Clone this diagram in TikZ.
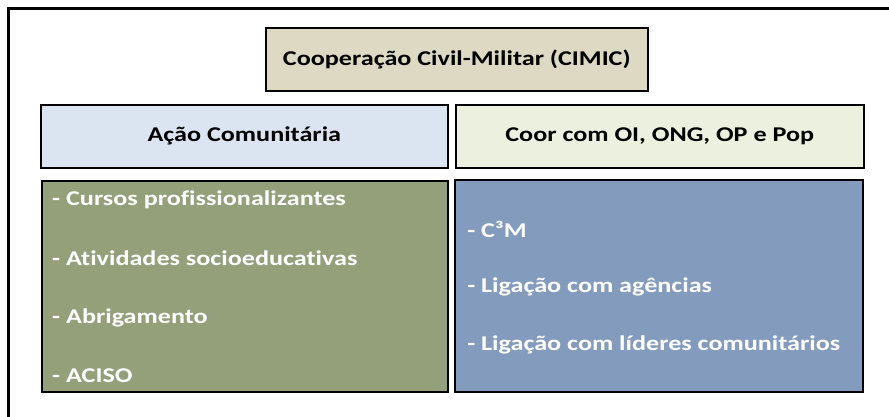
\documentclass[tikz,border=0pt]{standalone}
\usepackage{fontspec}
\setmainfont{Carlito}[Ligatures=NoCommon]
\definecolor{tanfill}{HTML}{DDD9C3}
\definecolor{bluefill}{HTML}{DBE5F1}
\definecolor{greenfill}{HTML}{EBF1DE}
\definecolor{olivebox}{HTML}{94A07A}
\definecolor{steelbox}{HTML}{839CBE}
\tikzset{
  box/.style={draw=black, line width=1.6pt, inner sep=0pt, anchor=north west},
  head/.style={font=\fontsize{21}{24}\selectfont\bfseries, text=black, xscale=1.245},
  item/.style={font=\fontsize{21}{24}\selectfont\bfseries, text=white, anchor=west, inner sep=0pt, xscale=1.245}
}
\begin{document}
\begin{tikzpicture}[x=1pt,y=-1pt]
\useasboundingbox (0,0) rectangle (889,417);

% frame
\draw[line width=3.5pt] (8.5,417) -- (8.5,8.5) -- (889,8.5);

% headers
\node[box, fill=tanfill, minimum width=382pt, minimum height=63pt] (cimic) at (265,27) {};
\node[head] at (cimic.center) {Cooperação Civil-Militar (CIMIC)};
\node[box, fill=bluefill, minimum width=407pt, minimum height=63pt] (acao) at (40,104) {};
\node[head] at (acao.center) {Ação Comunitária};
\node[box, fill=greenfill, minimum width=408pt, minimum height=63pt] (coor) at (455,104) {};
\node[head] at (coor.center) {Coor com OI, ONG, OP e Pop};

% lists
\node[box, fill=olivebox, minimum width=406pt, minimum height=211pt] (acaolist) at (41,180) {};
\node[item] (a1) at (52,200) {- Cursos profissionalizantes};
\node[item] (a2) at (52,258) {- Atividades socioeducativas};
\node[item] (a3) at (52,318) {- Abrigamento};
\node[item] (a4) at (52,376) {- ACISO};

\node[box, fill=steelbox, minimum width=408pt, minimum height=212pt] (coorlist) at (454,179) {};
\node[item] (c1) at (467,229) {- C³M};
\node[item] (c2) at (467,287) {- Ligação com agências};
\node[item] (c3) at (467,345) {- Ligação com líderes comunitários};
\end{tikzpicture}
\end{document}
